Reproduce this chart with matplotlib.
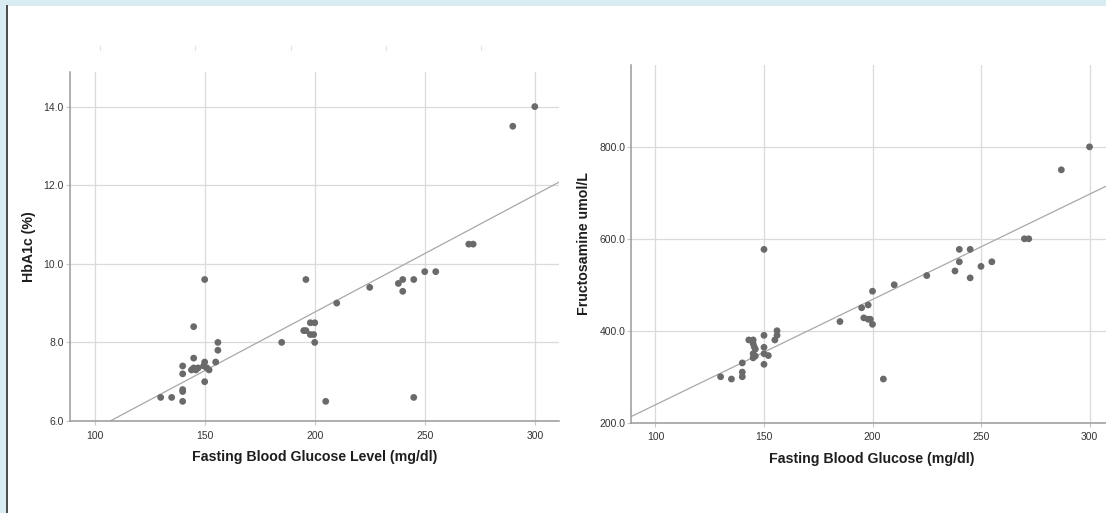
import numpy as np
import matplotlib
matplotlib.use("Agg")
import matplotlib.pyplot as plt
from matplotlib.lines import Line2D
from matplotlib.patches import Rectangle

# left panel: HbA1c vs fasting blood glucose
fbg_a = [300, 290, 270, 272, 250, 255, 245, 240, 238, 240, 225, 210, 196, 198, 200,
         195, 196, 198, 199.5, 200, 185, 205, 245,
         150, 145, 156, 156, 155, 145, 140, 140, 144, 145, 146, 147,
         150, 149.5, 151, 152, 150, 140, 140, 140, 130, 135]
hba1c = [14.0, 13.5, 10.5, 10.5, 9.8, 9.8, 9.6, 9.6, 9.5, 9.3, 9.4, 9.0, 9.6, 8.5, 8.5,
         8.3, 8.3, 8.2, 8.2, 8.0, 8.0, 6.5, 6.6,
         9.6, 8.4, 8.0, 7.8, 7.5, 7.6, 7.4, 7.2, 7.3, 7.35, 7.3, 7.35,
         7.5, 7.4, 7.35, 7.3, 7.0, 6.8, 6.75, 6.5, 6.6, 6.6]
fit_a = (0.0298, 2.81)  # slope, intercept of fit line

# right panel: fructosamine vs fasting blood glucose
fbg_b = [300, 287, 270, 272, 255, 250, 245, 245, 240, 240, 238, 225, 210, 200, 198,
         195, 196, 198, 199, 200, 185, 205,
         150, 150, 156, 156, 155, 143, 145, 145, 145.5, 146, 145, 146, 145,
         150, 150, 152, 150, 140, 140, 140, 130, 135]
fructosamine = [800, 750, 600, 600, 550, 540, 515, 577, 577, 550, 530, 520, 500, 486, 456,
                450, 428, 425, 425, 414, 420, 295,
                577, 390, 400, 390, 380, 380, 380, 372, 365, 360, 350, 345, 341,
                364, 350, 346, 327, 330, 310, 300, 300, 295]
fit_b = (2.29, 10.0)

xticks = [100, 150, 200, 250, 300]
yticks_a = [6.0, 8.0, 10.0, 12.0, 14.0]
yticks_b = [200.0, 400.0, 600.0, 800.0]

W, H = 1106, 513
fig = plt.figure(figsize=(W / 100, H / 100), dpi=100)
fig.patch.set_facecolor("white")

# frame decoration from the source page
fig.add_artist(Rectangle((0, 1 - 6 / H), 1, 6 / H, transform=fig.transFigure,
                         facecolor="#d9ecf1", edgecolor="none", zorder=5))
fig.add_artist(Rectangle((0, 0), 6 / W, 1, transform=fig.transFigure,
                         facecolor="#d9ecf1", edgecolor="none", zorder=5))
fig.add_artist(Line2D([6.6 / W, 6.6 / W], [0, 1 - 6 / H], color="#3c3c3c", lw=1.3, zorder=6))
for px in [100, 195, 291, 386, 481]:
    fig.add_artist(Line2D([px / W, px / W], [1 - 46 / H, 1 - 50 / H], color="#e3e3e3", lw=0.8))


def px_axes(x0, x1, y0, y1):
    return fig.add_axes([x0 / W, 1 - y1 / H, (x1 - x0) / W, (y1 - y0) / H])


def scatter_panel(ax, x, y, fit, yticks, xlabel, ylabel, xlim, ylim, ypad):
    ax.set_xlim(*xlim)
    ax.set_ylim(*ylim)
    ax.grid(True, color="#dadada", lw=0.9)
    ax.set_axisbelow(True)
    ax.scatter(x, y, s=24, color="#6a6a6a", edgecolors="none", zorder=3)
    ax.axline((0, fit[1]), slope=fit[0], color="#a8a8a8", lw=0.9, zorder=2)
    ax.set_xticks(xticks)
    ax.set_yticks(yticks)
    ax.set_yticklabels(["%.1f" % v for v in yticks])
    for side in ["top", "right"]:
        ax.spines[side].set_visible(False)
    for side in ["left", "bottom"]:
        ax.spines[side].set_color("#9a9a9a")
        ax.spines[side].set_linewidth(1.1)
    ax.tick_params(axis="both", length=3, width=0.8, color="#c8c8c8",
                   labelsize=7.5, labelcolor="#333333")
    ax.tick_params(axis="x", pad=4)
    ax.tick_params(axis="y", pad=1.5)
    for lab in ax.get_xticklabels() + ax.get_yticklabels():
        lab.set_family("Liberation Sans")
    ax.set_xlabel(xlabel, fontsize=10.2, fontweight="bold", family="Liberation Sans",
                  color="#1e1e1e", labelpad=7)
    ax.set_ylabel(ylabel, fontsize=10.2, fontweight="bold", family="Liberation Sans",
                  color="#1e1e1e", labelpad=ypad)


ax1 = px_axes(70, 559, 72, 421)
scatter_panel(ax1, fbg_a, hba1c, fit_a, yticks_a,
              "Fasting Blood Glucose Level (mg/dl)", "HbA1c (%)",
              (88.8, 311), (6.0, 14.88), 5)

ax2 = px_axes(631.4, 1113.4, 65, 422.7)
scatter_panel(ax2, fbg_b, fructosamine, fit_b, yticks_b,
              "Fasting Blood Glucose (mg/dl)", "Fructosamine umol/L",
              (88.9, 311), (200, 978), 6)
ax2.xaxis.label.set_position(((872 - 631.4) / (1113.4 - 631.4), 0))

plt.savefig("out.png", dpi=100)
